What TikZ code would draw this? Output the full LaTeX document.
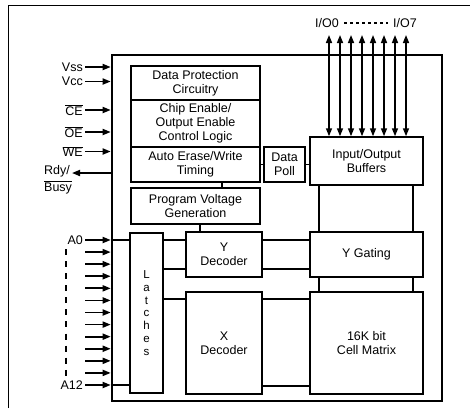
\documentclass[tikz,border=0pt]{standalone}
\usepackage{fontspec}
\setmainfont{Liberation Sans}
\usetikzlibrary{arrows.meta}
\newcommand{\blkfont}{\fontsize{12.5}{13.8}\selectfont}

\begin{document}
\begin{tikzpicture}[
    x=1pt, y=-1pt,
    chipbox/.style = {rectangle, draw, line width=2.6pt, inner sep=0pt,
                      minimum width=330pt, minimum height=346pt},
    block/.style   = {rectangle, draw, line width=1.5pt, inner sep=0pt,
                      font=\blkfont, align=center},
    wire/.style    = {line width=1.3pt},
    pin/.style     = {-{Triangle[length=8pt, width=6pt]}, line width=1.7pt},
    iopin/.style   = {{Triangle[length=8pt, width=6pt]}-{Triangle[length=8pt, width=6pt]},
                      line width=1.5pt},
    pinlabel/.style = {font=\blkfont, anchor=east, inner sep=2pt},
]
\useasboundingbox (0,0) rectangle (470,408);

%% ---- Page frame ----
\draw[line width=0.8pt] (8,408) -- (8,5) -- (470,5);

%% ---- Chip outline ----
\node[chipbox] (chip) at (277,228) {};

%% ---- Control blocks ----
\node[block, minimum width=129pt, minimum height=34pt] (dpc) at (195.5,83)
    {Data Protection\\Circuitry};
\node[block, minimum width=129pt, minimum height=47pt] (cel) at (195.5,123.5)
    {Chip Enable/\\Output Enable\\Control Logic};
\node[block, minimum width=129pt, minimum height=35pt] (aew) at (195.5,164.5)
    {Auto Erase/Write\\Timing};
\node[block, minimum width=129pt, minimum height=36pt] (pvg) at (195.5,206)
    {Program Voltage\\Generation};
\node[block, minimum width=41pt, minimum height=35pt] (poll) at (284.5,164.5)
    {Data\\Poll};

%% ---- Array blocks ----
\node[block, minimum width=113pt, minimum height=48pt] (iob) at (366.5,161)
    {Input/Output\\Buffers};
\node[block, minimum width=113pt, minimum height=45pt] (ygate) at (366.5,254.5)
    {Y Gating};
\node[block, minimum width=113pt, minimum height=102pt] (cell) at (366.5,343)
    {16K bit\\Cell Matrix};
\node[block, minimum width=33pt, minimum height=160pt,
      font=\fontsize{11.5}{12.8}\selectfont] (latch) at (146.5,313)
    {L\\a\\t\\c\\h\\e\\s};
\node[block, minimum width=76pt, minimum height=45pt] (ydec) at (224,254.5)
    {Y\\Decoder};
\node[block, minimum width=76pt, minimum height=102pt] (xdec) at (224,343)
    {X\\Decoder};

%% ---- Internal wiring ----
\draw[wire] ([xshift=26.5pt]aew.south) -- ([xshift=26.5pt]pvg.north);
\draw[wire] ([xshift=-24pt]ydec.north) -- ([xshift=-24pt]ydec.north |- pvg.south);
\draw[wire] (aew) -- (poll);
\draw[wire] (poll.east) -- (poll.east -| iob.west);
\draw[wire] ([yshift=14.5pt]ydec.west) -- ([yshift=14.5pt]ydec.west -| latch.east);
\draw[wire] ([yshift=-14.5pt]ydec.west) -- ([yshift=-14.5pt]ydec.west -| latch.east);
\draw[wire] ([yshift=44pt]xdec.west) -- ([yshift=44pt]xdec.west -| latch.east);
\draw[wire] ([yshift=14.5pt]ydec.east) -- ([yshift=14.5pt]ydec.east -| ygate.west);
\draw[wire] ([yshift=-14.5pt]ydec.east) -- ([yshift=-14.5pt]ydec.east -| ygate.west);
\draw[wire] ([yshift=44pt]xdec.east) -- ([yshift=44pt]xdec.east -| cell.west);
\draw[wire] ([yshift=-43pt]xdec.east) -- ([yshift=-43pt]xdec.east -| cell.west);
\foreach \dx in {-47.5, 46.5} {
    \draw[wire] ([xshift=\dx pt]iob.south) -- ([xshift=\dx pt]iob.south |- ygate.north);
    \draw[wire] ([xshift=\dx pt]ygate.south) -- ([xshift=\dx pt]ygate.south |- cell.north);
}

%% ---- Control pins ----
\node[pinlabel] (vss) at (85,67)  {Vss};
\node[pinlabel] (vcc) at (85,81.5) {Vcc};
\node[pinlabel] (ce)  at (85,110) {$\overline{\mbox{CE}}$};
\node[pinlabel] (oe)  at (85,132) {$\overline{\mbox{OE}}$};
\node[pinlabel] (we)  at (85,151.5) {$\overline{\mbox{WE}}$};
\foreach \p in {vss, vcc, ce, oe, we}
    \draw[pin] (\p.east) -- (\p.east -| chip.west);

\coordinate (rdyend) at (72,173);
\node[font=\blkfont, align=left, anchor=north west, inner sep=0pt] (rdy) at (44,165)
    {Rdy/\\[3pt]$\overline{\mbox{Busy}}$};
\draw[pin] (rdyend -| chip.west) -- (rdyend);

%% ---- Address pins ----
\foreach \i in {0,...,12}
    \coordinate (a\i) at (85, 240+12.083*\i);
\foreach \i in {0,...,12}
    \draw[pin] (a\i) -- (a\i -| chip.west);
\node[pinlabel] (a0lab)  at (a0)  {A0};
\node[pinlabel] (a12lab) at (a12) {A12};
\draw[wire] (a0 -| chip.west) -- (a0 -| latch.west);
\draw[wire] (a12 -| chip.west) -- (a12 -| latch.west);
\draw[line width=1.3pt, dash pattern=on 6pt off 6.08pt] (66,249) -- (66,376);

%% ---- Data I/O pins ----
\foreach \i in {0,...,7}
    \coordinate (io\i) at (329+11*\i, 35);
\foreach \i in {0,...,7}
    \draw[iopin] (io\i) -- (io\i |- iob.north);
\node[font=\blkfont, inner sep=2pt] (io0lab) at (327,23) {I/O0};
\node[font=\blkfont, inner sep=2pt] (io7lab) at (405,23) {I/O7};
\draw[line width=1.3pt, dash pattern=on 2.5pt off 3.5pt, shorten <=3pt, shorten >=3pt]
    (io0lab.east) -- (io7lab.west);

\end{tikzpicture}
\end{document}
